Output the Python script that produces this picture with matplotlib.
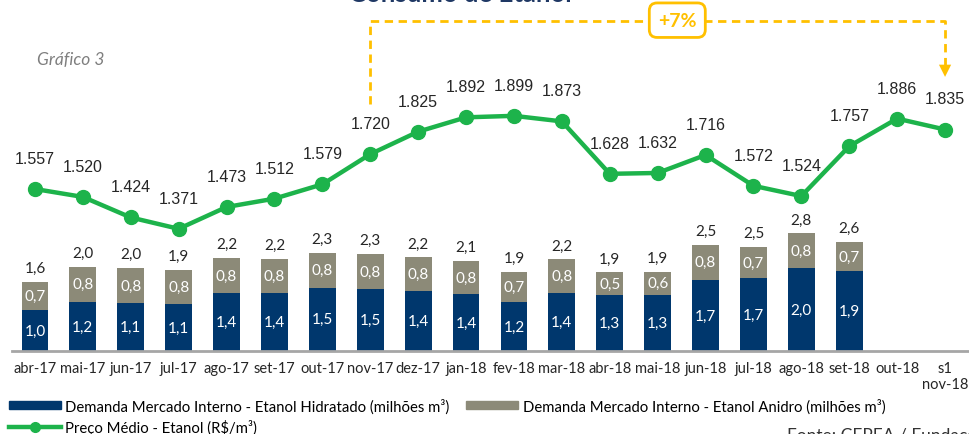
import matplotlib.pyplot as plt
from matplotlib.patches import Patch
from matplotlib.lines import Line2D
import numpy as np

# Dados do gráfico
meses = ["abr-17", "mai-17", "jun-17", "jul-17", "ago-17", "set-17", "out-17",
         "nov-17", "dez-17", "jan-18", "fev-18", "mar-18", "abr-18", "mai-18",
         "jun-18", "jul-18", "ago-18", "set-18", "out-18", "s1\nnov-18"]
# demanda mercado interno (milhões m³), abr-17 a set-18
hidratado = [0.97, 1.17, 1.14, 1.11, 1.38, 1.39, 1.51, 1.47, 1.43, 1.36,
             1.17, 1.38, 1.33, 1.33, 1.69, 1.73, 1.98, 1.90]
anidro = [0.67, 0.84, 0.84, 0.83, 0.83, 0.81, 0.82, 0.84, 0.80, 0.78,
          0.72, 0.80, 0.54, 0.56, 0.84, 0.74, 0.82, 0.70]
# preço médio etanol (R$/m³)
preco = [1557, 1520, 1424, 1371, 1473, 1512, 1579, 1720, 1825, 1892,
         1899, 1873, 1628, 1632, 1716, 1572, 1524, 1757, 1886, 1835]

AZUL = "#00376d"
CINZA = "#8c8a78"
VERDE = "#1db34b"
AMARELO = "#ffc000"
FONTE = "Lato"
TXT = "#262626"


def fmt_dec(v):
    return f"{v:.1f}".replace(".", ",")


fig = plt.figure(figsize=(9.69, 4.35), dpi=100)
ax = fig.add_axes([12 / 969, 83 / 435, 957 / 969, 352 / 435])

x = np.arange(len(meses))
xb = x[:len(hidratado)]
total = np.array(hidratado) + np.array(anidro)

ax.bar(xb, hidratado, width=0.56, color=AZUL, zorder=2)
ax.bar(xb, anidro, bottom=hidratado, width=0.56, color=CINZA, zorder=2)

for i in range(len(xb)):
    ax.text(xb[i], hidratado[i] / 2, fmt_dec(hidratado[i]), ha="center", va="center",
            color="white", fontsize=11, family=FONTE)
    ax.text(xb[i], hidratado[i] + anidro[i] / 2, fmt_dec(anidro[i]), ha="center",
            va="center", color="white", fontsize=11, family=FONTE)
    ax.annotate(fmt_dec(total[i]), (xb[i], total[i]), xytext=(0, 10),
                textcoords="offset points", ha="center", va="center",
                fontsize=11, family=FONTE, color=TXT)

ax.set_xlim(-0.48, 19.5)
ax.set_ylim(0, 352 / 42)
ax.set_xticks(x)
ax.set_xticklabels(meses, fontsize=10.5, family=FONTE, color=TXT)
ax.tick_params(axis="x", length=0, pad=7)
ax.set_yticks([])
for s in ["top", "left", "right"]:
    ax.spines[s].set_visible(False)
ax.spines["bottom"].set_color("#a6a6a6")
ax.spines["bottom"].set_linewidth(2)

# linha de preço no eixo secundário
ax2 = ax.twinx()
ax2.plot(x, preco, color=VERDE, lw=3.2, marker="o", ms=10, zorder=3)
for i, p in enumerate(preco):
    ax2.annotate(f"{p:,}".replace(",", "."), (x[i], p), xytext=(0, 22),
                 textcoords="offset points", ha="center", va="center",
                 fontsize=11.5, family="Liberation Sans", color=TXT)
ax2.set_ylim(800, 2445)
ax2.set_yticks([])
for s in ax2.spines.values():
    s.set_visible(False)

# variação nov-17 -> s1 nov-18
var = preco[-1] / preco[7] - 1
ax2.plot([7, 7, 19, 19], [1954, 2342, 2342, 2110], color=AMARELO, lw=2,
         ls=(0, (3, 2)), clip_on=False, zorder=4)
ax2.annotate("", xy=(19, 2068), xytext=(19, 2115),
             arrowprops=dict(arrowstyle="-|>", color=AMARELO, lw=0, mutation_scale=22),
             annotation_clip=False)
ax2.text(13.41, 2346, f"+{var * 100:.0f}%", ha="center", va="center", fontsize=14,
         fontweight="bold", color=AMARELO, family=FONTE, zorder=5,
         bbox=dict(boxstyle="round,pad=0.45,rounding_size=0.4", fc="white",
                   ec=AMARELO, lw=2))

fig.text(0.475, 1 - 2 / 435, "Consumo de Etanol", ha="center", va="baseline",
         fontsize=18.5, fontweight="bold", color="#1f3864", family=FONTE)
fig.text(37 / 969, 1 - 60 / 435, "Gráfico 3", ha="left", va="center", fontsize=12.5,
         style="italic", color="#7f7f7f", family=FONTE)
fig.text(787 / 969, 7 / 435, "Fonte: CEPEA / Fundação", ha="left", va="top",
         fontsize=12.5, color="#333333", family=FONTE)

handles = [Patch(color=AZUL, label="Demanda Mercado Interno - Etanol Hidratado (milhões m³)"),
           Line2D([], [], color=VERDE, lw=3.2, marker="o", ms=7,
                  label="Preço Médio - Etanol (R$/m³)"),
           Patch(color=CINZA, label="Demanda Mercado Interno - Etanol Anidro (milhões m³)")]
fig.legend(handles=handles, ncol=2, loc="upper left",
           bbox_to_anchor=(6 / 969, 1 - 396 / 435),
           frameon=False, prop={"family": FONTE, "size": 10.7}, handlelength=3.5,
           handleheight=0.55, handletextpad=0.3, columnspacing=1.1, labelspacing=0.4,
           borderaxespad=0, borderpad=0.2)

fig.savefig("out.png", dpi=100)
